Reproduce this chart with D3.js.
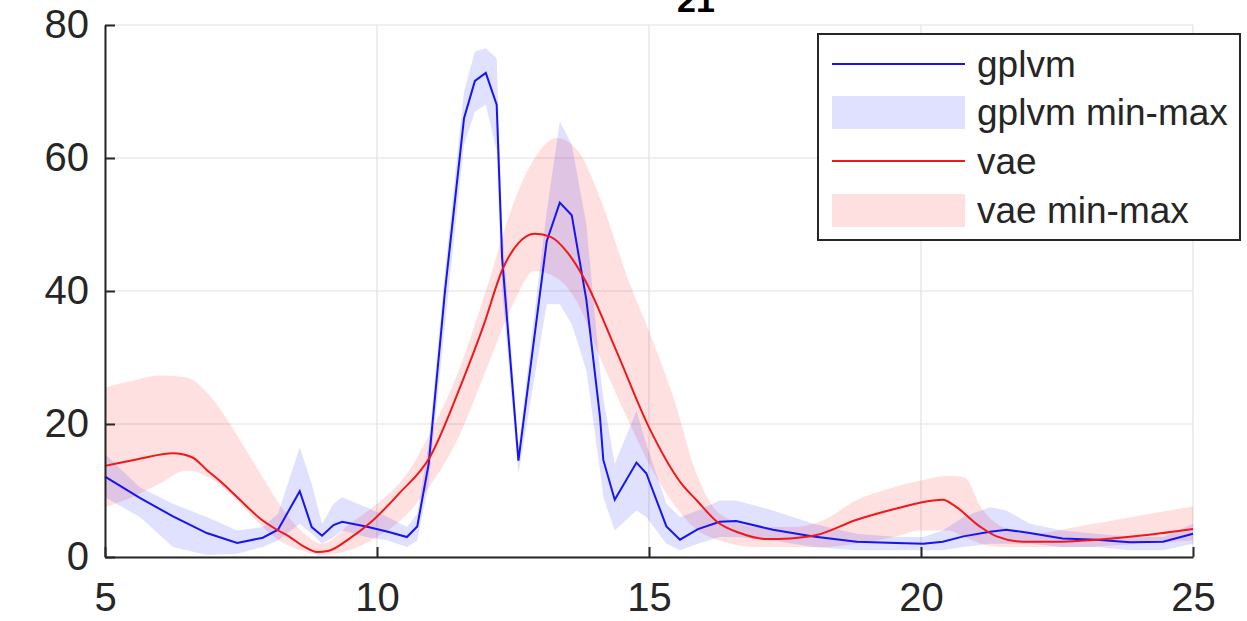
<!DOCTYPE html>
<html><head><meta charset="utf-8">
<script src="https://cdn.jsdelivr.net/npm/d3@7"></script>
<style>body{margin:0;background:#fff}svg{display:block}text{font-family:"Liberation Sans",Arial,sans-serif}</style>
</head><body><svg id="c" width="1247" height="621"></svg>
<script>
const xTicks = [5, 10, 15, 20, 25];
const yTicks = [0, 20, 40, 60, 80];
const titleText = "21";
const legendLabels = ["gplvm", "gplvm min-max", "vae", "vae min-max"];

const gplvmX    = [5.0, 5.64, 6.25, 6.87, 7.43, 7.9, 8.18, 8.58, 8.8, 8.99, 9.2, 9.36, 9.8, 10.2, 10.55, 10.74, 10.95, 11.25, 11.6, 11.8, 12.0, 12.2, 12.3, 12.6, 13.12, 13.36, 13.58, 13.85, 14.1, 14.16, 14.37, 14.77, 14.95, 15.32, 15.57, 15.9, 16.3, 16.6, 17.28, 18.02, 18.82, 19.55, 20.04, 20.4, 20.78, 21.27, 21.57, 22.0, 22.6, 23.23, 23.84, 24.45, 25.0];
const gplvmMean = [12.1, 8.9, 6.1, 3.6, 2.1, 2.9, 4.1, 9.9, 4.5, 3.2, 4.8, 5.3, 4.6, 3.8, 3.0, 4.6, 14.0, 40, 66, 71.6, 72.8, 68, 45, 14.5, 47.5, 53.3, 51.4, 38.6, 21, 14.6, 8.6, 14.2, 12.6, 4.6, 2.6, 4.2, 5.3, 5.4, 4.1, 3.1, 2.3, 2.1, 2.0, 2.3, 3.1, 3.8, 4.1, 3.6, 2.8, 2.6, 2.2, 2.3, 3.5];
const gplvmLo   = [9, 6, 1.5, 0.3, 0.5, 1.5, 2.5, 5, 3.5, 2, 3, 4, 3, 2.5, 1.5, 2.5, 11, 35, 62, 67, 68, 61, 40, 12.5, 38, 38, 35, 28, 13, 9, 4, 7, 6, 2, 1, 2, 3, 3, 2.5, 1.5, 1, 1, 1, 1, 1.5, 2, 2, 2, 1.5, 1.5, 1, 1, 2];
const gplvmHi   = [15.5, 10.5, 8, 6, 4, 4.5, 6.5, 16.5, 11, 5, 8, 9, 7.5, 6, 4.5, 6.5, 17, 43, 70, 76, 76.5, 75, 50, 16.5, 52, 65.5, 62, 50, 28, 24, 14, 22, 17, 8, 6, 7, 8.5, 8.5, 7, 5, 3.5, 3, 3, 4, 6, 7.5, 7, 5, 4, 3.5, 3, 3, 5];

const vaeX    = [5.0, 5.6, 6.25, 6.6, 6.87, 7.2, 7.48, 7.85, 8.16, 8.4, 8.65, 8.9, 9.1, 9.5, 9.87, 10.4, 10.97, 11.53, 11.95, 12.32, 12.6, 12.9, 13.2, 13.5, 13.8, 14.4, 15.0, 15.6, 15.88, 16.25, 16.67, 17.16, 17.6, 18.08, 18.82, 19.55, 20.22, 20.4, 20.6, 21.08, 21.39, 21.88, 22.6, 23.23, 24.15, 25.0];
const vaeMean = [13.7, 14.7, 15.6, 15.0, 13.1, 10.8, 8.6, 5.8, 4.1, 3.0, 1.6, 0.75, 0.9, 2.8, 5.1, 9.5, 15, 25.6, 34.6, 43.5, 47.2, 48.6, 48.1, 45.8, 42, 31, 19.5, 11, 8.5, 5.3, 3.6, 2.7, 2.8, 3.3, 5.6, 7.3, 8.5, 8.6, 7.8, 4.6, 3.1, 2.3, 2.3, 2.6, 3.3, 4.2];

const vaeBandX = [5.0, 5.5, 6.0, 6.5, 6.9, 7.3, 7.6, 7.9, 8.2, 8.6, 9.0, 9.5, 10.0, 10.5, 11.0, 11.5, 12.0, 12.5, 12.9, 13.3, 13.7, 14.1, 14.65, 15.0, 15.45, 15.9, 16.3, 17.0, 17.6, 18.2, 18.8, 19.5, 20.0, 20.5, 20.8, 21.1, 21.5, 22.0, 22.9, 24.0, 25.0];
const vaeLo    = [7.5, 9, 11, 13, 12, 9.5, 7, 4.5, 2.5, 1, 0.3, 1, 3, 6, 11, 18, 28, 38, 43, 42, 38, 30, 20, 14, 8, 4, 2.5, 1.5, 1.5, 1.5, 2, 3, 4, 4, 3, 2, 1.5, 1.5, 1.5, 2, 2.5];
const vaeHi    = [25.5, 26.5, 27.3, 27, 24.5, 20, 16, 12, 8, 4, 2, 5, 8, 12, 19, 28, 40, 53, 60, 63, 61, 54, 41, 34, 24, 12, 6.5, 4.5, 4.5, 5.5, 8.5, 10.5, 11.5, 12.2, 12, 7.5, 4.5, 3.5, 4.6, 6.2, 7.6];

const m = {l: 105, r: 1193, t: 25, b: 557};
const svg = d3.select("#c");
const x = d3.scaleLinear().domain([5, 25]).range([m.l, m.r]);
const y = d3.scaleLinear().domain([0, 80]).range([m.b, m.t]);
const axisCol = "#262626";

// grid
svg.append("g").selectAll("line").data(xTicks).join("line")
  .attr("x1", d => x(d)).attr("x2", d => x(d)).attr("y1", m.t).attr("y2", m.b)
  .attr("stroke", "#e2e2e2").attr("stroke-width", 1.2);
svg.append("g").selectAll("line").data(yTicks).join("line")
  .attr("y1", d => y(d)).attr("y2", d => y(d)).attr("x1", m.l).attr("x2", m.r)
  .attr("stroke", "#e2e2e2").attr("stroke-width", 1.2);

const plot = svg.append("g");
const gIdx = d3.range(gplvmX.length);
const vIdx = d3.range(vaeBandX.length);

plot.append("path")
  .attr("d", d3.area().x(i => x(vaeBandX[i])).y0(i => y(vaeLo[i])).y1(i => y(vaeHi[i])).curve(d3.curveMonotoneX)(vIdx))
  .attr("fill", "#ff0000").attr("fill-opacity", 0.12);
plot.append("path")
  .attr("d", d3.area().x(i => x(gplvmX[i])).y0(i => y(gplvmLo[i])).y1(i => y(gplvmHi[i])).curve(d3.curveLinear)(gIdx))
  .attr("fill", "#0000ff").attr("fill-opacity", 0.12);

plot.append("path")
  .attr("d", d3.line().x(i => x(gplvmX[i])).y(i => y(gplvmMean[i])).curve(d3.curveLinear)(gIdx))
  .attr("fill", "none").attr("stroke", "#1515f0").attr("stroke-width", 2);
plot.append("path")
  .attr("d", d3.line().x(i => x(vaeX[i])).y(i => y(vaeMean[i])).curve(d3.curveMonotoneX)(d3.range(vaeX.length)))
  .attr("fill", "none").attr("stroke", "#f01818").attr("stroke-width", 2);

// axes
const xAxis = d3.axisBottom(x).tickValues(xTicks).tickSize(-10).tickSizeOuter(0).tickPadding(26).tickFormat(d3.format("d"));
const yAxis = d3.axisLeft(y).tickValues(yTicks).tickSize(-10).tickSizeOuter(0).tickPadding(16).tickFormat(d3.format("d"));
const gx = svg.append("g").attr("transform", `translate(0,${m.b})`).call(xAxis);
const gy = svg.append("g").attr("transform", `translate(${m.l},0)`).call(yAxis);
[gx, gy].forEach(g => {
  g.select(".domain").attr("stroke", axisCol).attr("stroke-width", 2);
  g.selectAll(".tick line").attr("stroke", axisCol).attr("stroke-width", 2);
  g.selectAll(".tick text").attr("fill", axisCol).style("font-size", "40px");
});
gx.selectAll(".tick text").attr("dy", "0.71em");

// title (clipped at top, as in the reference)
svg.append("text").attr("x", 696).attr("y", 12).attr("text-anchor", "middle")
  .style("font-size", "34px").style("font-weight", "bold").attr("fill", "#000").text(titleText);

// legend
const lg = svg.append("g");
lg.append("rect").attr("x", 818).attr("y", 34).attr("width", 422).attr("height", 206)
  .attr("fill", "#fff").attr("stroke", axisCol).attr("stroke-width", 2);
const rowsY = [64, 112, 161, 210];
const kinds = ["line", "patch", "line", "patch"];
const cols = ["#1515f0", "#0000ff", "#f01818", "#ff0000"];
legendLabels.forEach((lab, i) => {
  if (kinds[i] === "line") {
    lg.append("line").attr("x1", 832).attr("x2", 965).attr("y1", rowsY[i]).attr("y2", rowsY[i])
      .attr("stroke", cols[i]).attr("stroke-width", 2);
  } else {
    lg.append("rect").attr("x", 832).attr("y", rowsY[i] - 16).attr("width", 133).attr("height", 33)
      .attr("fill", cols[i]).attr("fill-opacity", 0.12);
  }
  lg.append("text").attr("x", 977).attr("y", rowsY[i]).attr("dy", "0.35em")
    .style("font-size", "37px").attr("fill", axisCol).text(lab);
});
</script></body></html>
